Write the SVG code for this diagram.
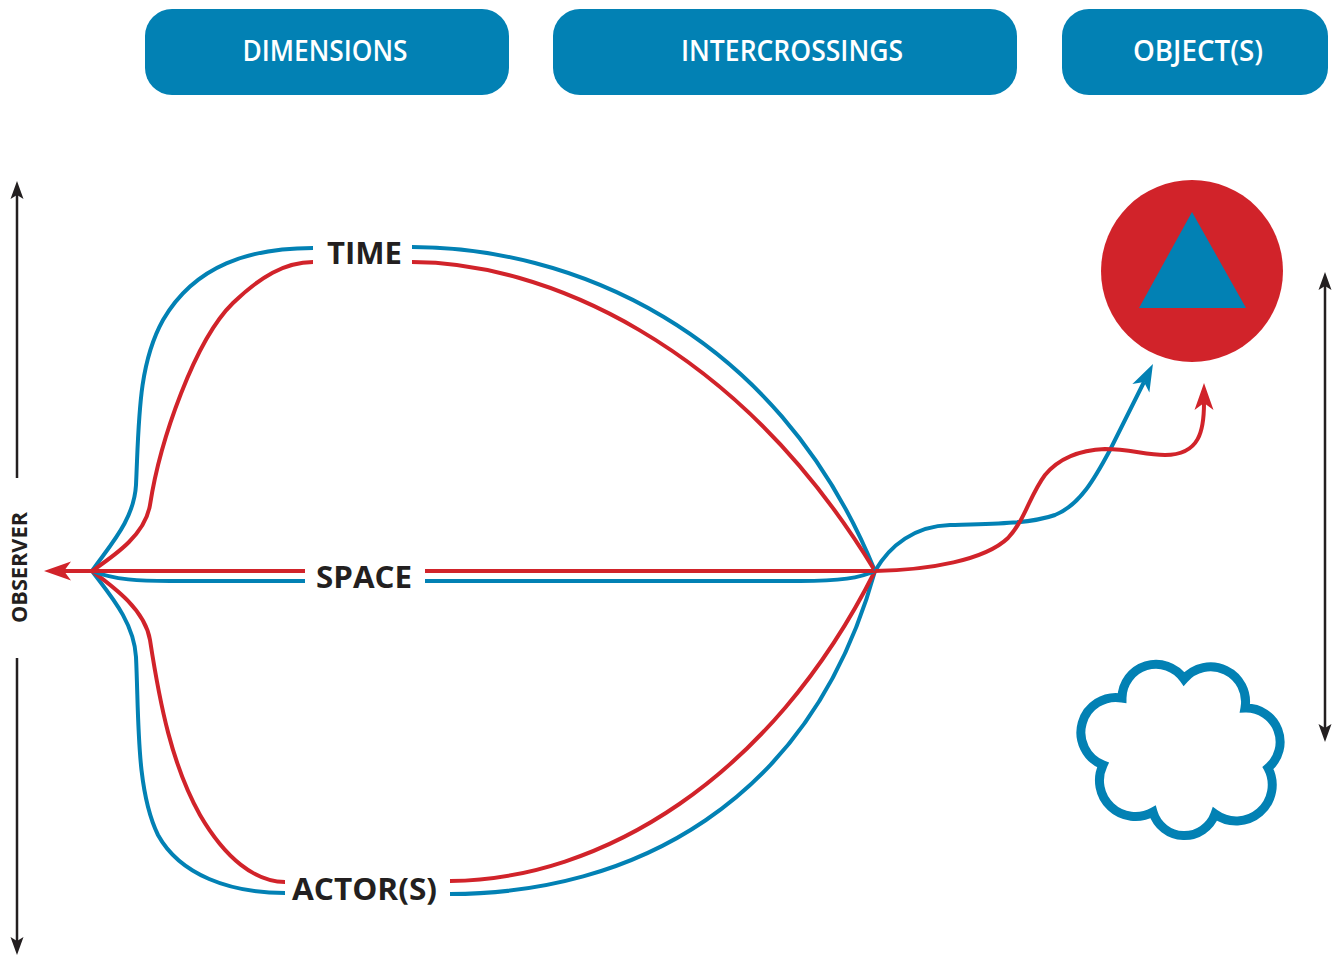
<svg xmlns="http://www.w3.org/2000/svg" width="1334" height="956" viewBox="0 0 1334 956">
<style>
.btn{fill:#0281B4}
.btxt{font-family:"Open Sans","Liberation Sans",sans-serif;font-weight:600;font-size:28px;fill:#ffffff;text-anchor:middle}
.lbl{font-family:"Open Sans","Liberation Sans",sans-serif;font-weight:700;font-size:30px;fill:#231F20;text-anchor:middle}
.obs{font-family:"Open Sans","Liberation Sans",sans-serif;font-weight:700;font-size:22px;fill:#231F20;text-anchor:middle}
.b{fill:none;stroke:#0281B4;stroke-width:4}
.r{fill:none;stroke:#D1232A;stroke-width:4}
.k{fill:none;stroke:#231F20;stroke-width:2.5}
</style>
<defs>
<marker id="ar" markerUnits="userSpaceOnUse" viewBox="0 -10 27 20" refX="7" refY="0" markerWidth="27" markerHeight="20" orient="auto">
<path d="M0,-9.5 L27,0 L0,9.5 L7,0 Z" fill="#D1232A"/>
</marker>
<marker id="ab" markerUnits="userSpaceOnUse" viewBox="0 -10 27 20" refX="7" refY="0" markerWidth="27" markerHeight="20" orient="auto">
<path d="M0,-9.5 L27,0 L0,9.5 L7,0 Z" fill="#0281B4"/>
</marker>
<marker id="ak" markerUnits="userSpaceOnUse" viewBox="0 -7 18 14" refX="4" refY="0" markerWidth="18" markerHeight="14" orient="auto-start-reverse">
<path d="M0,-6.5 L18,0 L0,6.5 L4,0 Z" fill="#231F20"/>
</marker>
</defs>
<rect width="1334" height="956" fill="#ffffff"/>

<g id="btn-dimensions">
<rect class="btn" x="145" y="9" width="364" height="86" rx="27"/>
<text class="btxt" x="325" y="61" textLength="165" lengthAdjust="spacingAndGlyphs">DIMENSIONS</text>
</g>
<g id="btn-intercrossings">
<rect class="btn" x="553" y="9" width="464" height="86" rx="27"/>
<text class="btxt" x="792" y="61" textLength="222" lengthAdjust="spacingAndGlyphs">INTERCROSSINGS</text>
</g>
<g id="btn-objects">
<rect class="btn" x="1062" y="9" width="266" height="86" rx="27"/>
<text class="btxt" x="1198" y="61" textLength="130" lengthAdjust="spacingAndGlyphs">OBJECT(S)</text>
</g>

<g id="connectors">
<!-- TIME -->
<path class="b" d="M92,571 C110,545 134,520 136,485 C139,420 138,365 163,320 C195,265 250,248 313,248"/>
<path class="r" d="M92,571 C115,555 145,535 150,505 C160,440 195,340 233,303 C260,277 285,262 313,262"/>
<path class="b" d="M412,247 C565,247 775,325 875,571"/>
<path class="r" d="M412,262 C540,262 735,340 875,571"/>
<!-- ACTOR(S) -->
<path class="b" d="M92,571 C110,595 134,622 136,657 C139,720 136,790 158,835 C180,875 230,893 285,893"/>
<path class="r" d="M92,571 C115,588 145,610 150,640 C160,705 172,765 200,815 C225,858 255,882 285,882"/>
<path class="b" d="M450,894 C630,894 810,805 875,571"/>
<path class="r" d="M450,881 C600,880 770,780 875,571"/>
<!-- SPACE -->
<path class="b" d="M92,571 C115,580 140,581 170,581 L305,581"/>
<path class="b" d="M425,581 L800,581 C840,581 860,578 875,571"/>
<path class="r" d="M425,571 L875,571"/>
<path class="r" d="M305,571 L64,571" marker-end="url(#ar)"/>
<!-- to object -->
<path class="b" d="M875,571 C890,545 915,526 950,525 C990,524 1030,524 1055,515 C1080,505 1095,478 1110,450 L1144,382" marker-end="url(#ab)"/>
<path class="r" d="M875,571 C930,570 985,560 1008,538 C1025,520 1030,495 1045,475 C1060,457 1080,450 1105,449 C1130,449 1145,455 1165,455 C1200,455 1204,430 1204,403" marker-end="url(#ar)"/>
</g>

<g id="label-time"><text class="lbl" x="364.5" y="264" textLength="75" lengthAdjust="spacingAndGlyphs">TIME</text></g>
<g id="label-space"><text class="lbl" x="364" y="588" textLength="96" lengthAdjust="spacingAndGlyphs">SPACE</text></g>
<g id="label-actors"><text class="lbl" x="364.5" y="900" textLength="145" lengthAdjust="spacingAndGlyphs">ACTOR(S)</text></g>

<g id="observer">
<path class="k" d="M17,478 L17,195" marker-end="url(#ak)"/>
<path class="k" d="M17,658 L17,941" marker-end="url(#ak)"/>
<text class="obs" transform="translate(27,567.5) rotate(-90)" x="0" y="0" textLength="111" lengthAdjust="spacingAndGlyphs">OBSERVER</text>
</g>

<g id="object-axis">
<path class="k" d="M1325,286 L1325,728" marker-start="url(#ak)" marker-end="url(#ak)"/>
</g>

<g id="object-symbol">
<circle cx="1192" cy="271" r="91" fill="#D1232A"/>
<polygon points="1192,212 1246,308 1139,308" fill="#0281B4"/>
</g>

<g id="cloud">
<path d="M1103,765 A35,35 0 0 1 1122,698 A34,34 0 0 1 1184,679 A35,35 0 0 1 1245,708 A34,34 0 0 1 1268,768 A36,36 0 0 1 1215,814 A32.6,32.6 0 0 1 1153,812 A36,36 0 0 1 1103,765 Z" fill="#ffffff" stroke="#0281B4" stroke-width="9"/>
</g>
</svg>
